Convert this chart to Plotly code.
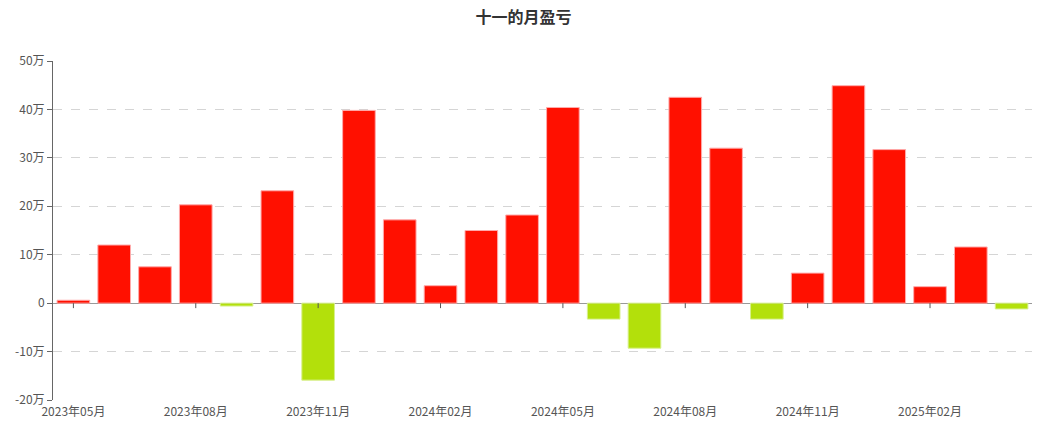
import plotly.graph_objects as go

months = ["2023年05月", "2023年06月", "2023年07月", "2023年08月", "2023年09月", "2023年10月",
          "2023年11月", "2023年12月", "2024年01月", "2024年02月", "2024年03月", "2024年04月",
          "2024年05月", "2024年06月", "2024年07月", "2024年08月", "2024年09月", "2024年10月",
          "2024年11月", "2024年12月", "2025年01月", "2025年02月", "2025年03月", "2025年04月"]
values = [0.6, 12.0, 7.5, 20.3, -0.6, 23.2, -15.9, 39.8, 17.2, 3.6, 15.0, 18.2,
          40.4, -3.3, -9.3, 42.5, 32.0, -3.3, 6.2, 44.9, 31.7, 3.4, 11.6, -1.2]
x_ticks = months[::3]
y_ticks = [-20, -10, 0, 10, 20, 30, 40, 50]
y_labels = ["-20万", "-10万", "0", "10万", "20万", "30万", "40万", "50万"]

RED = "#ff1000"
GREEN = "#b3e00b"
colors = [RED if v >= 0 else GREEN for v in values]
edges = ["rgba(255,170,170,1)" if v >= 0 else "rgba(215,240,140,1)" for v in values]

fig = go.Figure()
fig.add_trace(go.Bar(
    x=months, y=values,
    marker=dict(color=colors, line=dict(color=edges, width=1)),
    hovertemplate="%{x}: %{y}万<extra></extra>",
))

# tick marks on the zero line
for m in x_ticks:
    fig.add_shape(type="line", xref="x", yref="y", x0=m, x1=m,
                  ysizemode="pixel", yanchor=0, y0=0, y1=-5,
                  line=dict(color="#555", width=1))

fig.update_layout(
    width=1047, height=435,
    margin=dict(l=53, r=15, t=61, b=35, autoexpand=False),
    paper_bgcolor="white", plot_bgcolor="white",
    font=dict(family="Noto Sans CJK SC, sans-serif", size=12, color="#555"),
    title=dict(text="<b>十一的月盈亏</b>", x=0.5, xanchor="center", y=0.96, yanchor="middle",
               font=dict(size=16, color="#333")),
    showlegend=False,
    bargap=0.2,
    xaxis=dict(type="category", tickmode="array", tickvals=x_ticks, ticktext=x_ticks,
               showgrid=False, showline=False, ticks="", zeroline=False, automargin=False,
               tickfont=dict(size=12, color="#555"), ticklabelstandoff=3),
    yaxis=dict(range=[-20, 50], tickmode="array", tickvals=y_ticks, ticktext=y_labels,
               showgrid=True, gridcolor="#d5d5d5", griddash="dash", gridwidth=1,
               zeroline=True, zerolinecolor="#999", zerolinewidth=1, automargin=False,
               showline=True, linecolor="#666", linewidth=1,
               ticks="outside", ticklen=5, tickcolor="#666",
               tickfont=dict(size=12, color="#555")),
)

fig.write_html("out.html", config={"displayModeBar": False},
               post_script="document.body.style.margin='0';document.body.style.overflow='hidden';")
